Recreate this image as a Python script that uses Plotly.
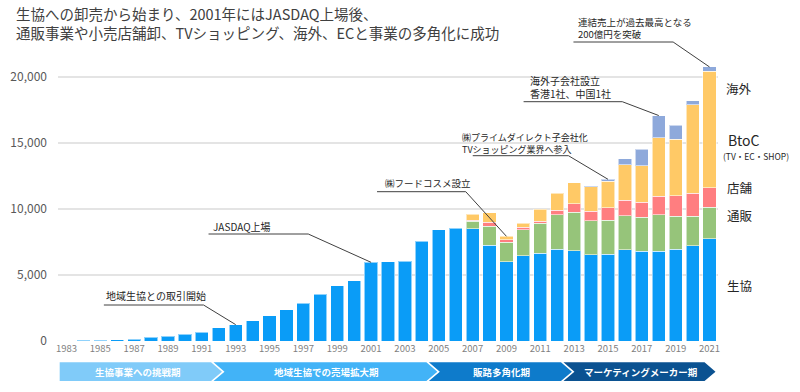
import plotly.graph_objects as go

# ---------------- data ----------------
years = list(range(1983, 2022))
coop = [20, 40, 60, 80, 150, 280, 360, 510, 660, 990, 1240, 1540, 1920, 2350, 2860,
        3560, 4190, 4550, 5960, 6010, 6040, 7550, 8440, 8560,
        8490, 7270, 5990, 6470, 6640, 6970, 6820, 6540, 6590, 6920, 6800, 6800, 6970, 7200, 7730]
mail = [0] * 24 + [580, 1440, 1510, 1970, 2280, 2610, 2950, 2580, 2550, 2580, 2570, 2770, 2480, 2270, 2420]
store = [0] * 24 + [70, 280, 180, 170, 150, 320, 610, 710, 940, 1160, 1140, 1390, 1540, 1740, 1470]
btoc = [0] * 24 + [460, 710, 250, 310, 910, 1310, 1620, 1840, 2040, 2680, 2750, 4450, 4290, 6700, 8830]
overseas = [0] * 24 + [0, 0, 0, 0, 0, 0, 0, 70, 130, 450, 1260, 1670, 1060, 300, 310]

series_names = ["生協", "通販", "店舗", "BtoC", "海外"]
series_values = [coop, mail, store, btoc, overseas]
series_colors = ["#0A9CF7", "#96C47A", "#FF7E80", "#FFC966", "#8EA9DB"]

x_tick_years = list(range(1983, 2022, 2))
y_ticks = [0, 5000, 10000, 15000, 20000]

title_lines = ["生協への卸売から始まり、2001年にはJASDAQ上場後、",
               "通販事業や小売店舗卸、TVショッピング、海外、ECと事業の多角化に成功"]

callout_texts = ["地域生協との取引開始", "JASDAQ上場", "㈱フードコスメ設立",
                 "㈱プライムダイレクト子会社化<br>TVショッピング業界へ参入",
                 "海外子会社設立<br>香港1社、中国1社",
                 "連結売上が過去最高となる<br>200億円を突破"]
callout_years = [1993, 2001, 2009, 2015, 2018, 2021]

phase_labels = ["生協事業への挑戦期", "地域生協での売場拡大期", "販路多角化期", "マーケティングメーカー期"]
phase_colors = ["#80CBF9", "#42B3F7", "#0E7BCB", "#0B5291"]

FONT = "Noto Sans CJK JP"

# ---------------- layout geometry ----------------
W, H = 800, 392
ML, MR, MT, MB = 56, 82, 10, 51
PW, PH = W - ML - MR, H - MT - MB
X_RANGE = [1982.5, 2021.5]
Y_MAX = PH * 75.76
Y_RANGE = [0, Y_MAX]


def px_to_paper_x(px):
    return (px - ML) / PW


def py_to_paper_y(py):
    return (H - MB - py) / PH


def px_to_year(px):
    return X_RANGE[0] + (px - ML) / PW * (X_RANGE[1] - X_RANGE[0])


def py_to_val(py):
    return (H - MB - py) / PH * Y_MAX


totals = [sum(v[i] for v in series_values) for i in range(len(years))]

fig = go.Figure()
for name, vals, col in zip(series_names, series_values, series_colors):
    fig.add_trace(go.Bar(
        x=years, y=[v if v else None for v in vals], name=name,
        marker=dict(color=col, line=dict(color="rgba(255,255,255,0.55)", width=1)),
    ))

shapes = []
annotations = []

# title
for line, py in zip(title_lines, [13, 32]):
    annotations.append(dict(text=line, xref="paper", yref="paper",
                            x=px_to_paper_x(12), y=py_to_paper_y(py),
                            xanchor="left", yanchor="middle", showarrow=False,
                            font=dict(family=FONT, size=14.5, color="#404040")))

# callouts: (text left px, text center py, underline x0 px, underline x1 px, underline py, font size)
callout_layout = [
    (102, 295.5, 102, 202, 305, 10),
    (209, 226, 207, 307, 234, 10),
    (382, 183, 376, 465, 191.7, 9.5),
    (459, 143.5, 472, 568, 155.7, 9),
    (527, 87, 523, 622, 101.7, 10),
    (576, 28, 573, 673, 42, 9.5),
]
for text, yr, (tx, ty, ux0, ux1, uy, fs) in zip(callout_texts, callout_years, callout_layout):
    idx = years.index(yr)
    y_line = py_to_val(uy)
    shapes.append(dict(type="line", xref="x", yref="y",
                       x0=px_to_year(ux0), x1=px_to_year(ux1), y0=y_line, y1=y_line,
                       line=dict(color="#404040", width=1)))
    shapes.append(dict(type="line", xref="x", yref="y",
                       x0=px_to_year(ux1), y0=y_line, x1=yr, y1=totals[idx],
                       line=dict(color="#404040", width=1)))
    annotations.append(dict(text=text, xref="paper", yref="paper",
                            x=px_to_paper_x(tx), y=py_to_paper_y(ty),
                            xanchor="left", yanchor="middle", align="left", showarrow=False,
                            font=dict(family=FONT, size=fs, color="#262626")))

# right-side series labels (px left, py center, size)
label_layout = {"海外": (724, 88, 12.5), "BtoC": (726, 140, 14), "店舗": (725, 187, 12.5),
                "通販": (725, 215, 12.5), "生協": (725, 285, 12.5)}
for name in series_names:
    lx, ly, fs = label_layout[name]
    annotations.append(dict(text=name, xref="paper", yref="paper",
                            x=px_to_paper_x(lx), y=py_to_paper_y(ly),
                            xanchor="left", yanchor="middle", showarrow=False,
                            font=dict(family=FONT, size=fs, color="#262626")))
annotations.append(dict(text="(TV・EC・SHOP)", xref="paper", yref="paper",
                        x=px_to_paper_x(721), y=py_to_paper_y(156),
                        xanchor="left", yanchor="middle", showarrow=False,
                        font=dict(family=FONT, size=8.5, color="#262626")))

# phase chevrons
edges_px = [57.7, 215, 431, 566, 710]
top_py, bot_py = 362.3, 381
d = 5.5
gap = 2.5
yt, yb, ym = py_to_paper_y(top_py), py_to_paper_y(bot_py), py_to_paper_y((top_py + bot_py) / 2)
for i, (lab, col) in enumerate(zip(phase_labels, phase_colors)):
    L, R = edges_px[i], edges_px[i + 1]
    px = px_to_paper_x
    if i == 0:
        pts = [(px(L), yt), (px(R - d), yt), (px(R + d), ym), (px(R - d), yb), (px(L), yb)]
    else:
        pts = [(px(L - d + gap), yt), (px(R - d), yt), (px(R + d), ym), (px(R - d), yb),
               (px(L - d + gap), yb), (px(L + d + gap), ym)]
    path = "M " + " L ".join(f"{a:.5f},{b:.5f}" for a, b in pts) + " Z"
    shapes.append(dict(type="path", path=path, xref="paper", yref="paper",
                       fillcolor=col, line=dict(width=0)))
    annotations.append(dict(text=f"<b>{lab}</b>", xref="paper", yref="paper",
                            x=px((L + R) / 2 + (2 if i else 0)), y=ym, showarrow=False,
                            xanchor="center", yanchor="middle",
                            font=dict(family=FONT, size=9.5, color="white")))

fig.update_layout(
    width=W, height=H, barmode="stack", bargap=0.22,
    margin=dict(l=ML, r=MR, t=MT, b=MB),
    plot_bgcolor="white", paper_bgcolor="white", showlegend=False,
    font=dict(family=FONT),
    shapes=shapes, annotations=annotations,
    xaxis=dict(range=X_RANGE, tickvals=x_tick_years, ticktext=[str(y) for y in x_tick_years],
               showgrid=False, showline=False, zeroline=False,
               tickfont=dict(family=FONT, size=9.5, color="#7f7f7f")),
    yaxis=dict(range=Y_RANGE, tickvals=y_ticks, tickformat=",d", showgrid=True,
               gridcolor="#e4e4e4", gridwidth=1.5, zeroline=False, showline=False,
               ticklabelstandoff=10,
               tickfont=dict(family=FONT, size=12, color="#595959")),
)

fig.write_html("out.html", config={"displayModeBar": False},
               post_script="document.body.style.margin='0px';")
